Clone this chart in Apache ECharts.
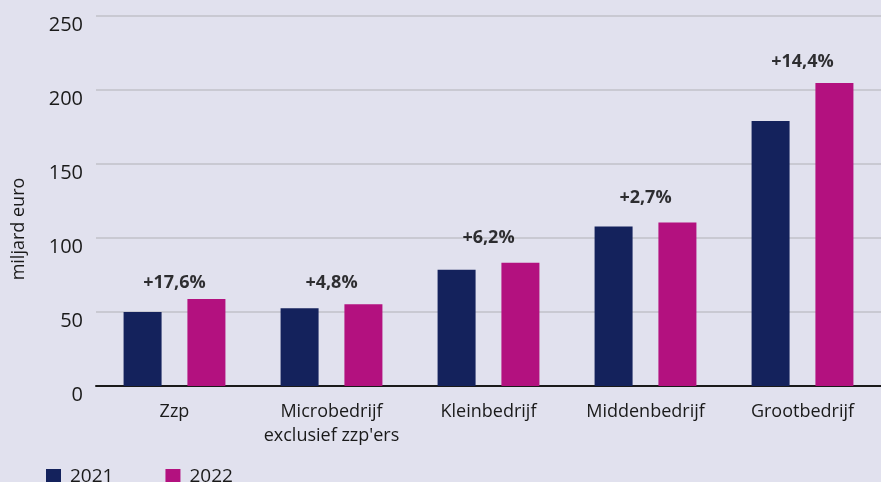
<!DOCTYPE html>
<html lang="nl">
<head>
    <meta charset="UTF-8">
    <title>Omzet per bedrijfsgrootte</title>
    <style>
        * { margin: 0; padding: 0; box-sizing: border-box; }
        body { background-color: #e1e1ee; }
        #chart { width: 881px; height: 482px; }
    </style>
    <script src="https://cdn.jsdelivr.net/npm/echarts@6.0.0/dist/echarts.min.js"></script>
</head>
<body>
    <div id="chart"></div>
    <script>
        // categorieën en waarden (miljard euro)
        const categories = ['Zzp', "Microbedrijf\nexclusief zzp'ers", 'Kleinbedrijf', 'Middenbedrijf', 'Grootbedrijf'];
        const values2021 = [50, 52.5, 78.6, 107.7, 179];
        const values2022 = [58.8, 55.3, 83.3, 110.4, 204.8];
        const growthLabels = ['+17,6%', '+4,8%', '+6,2%', '+2,7%', '+14,4%'];
        const growthLabelY = [70, 70, 100, 127, 219];
        const yTicks = [0, 50, 100, 150, 200, 250];

        const font = '"Open Sans", sans-serif';
        const chart = echarts.init(document.getElementById('chart'));

        const option = {
            backgroundColor: '#e1e1ee',
            animation: false,
            textStyle: { fontFamily: font },
            grid: { left: 96, right: 0, top: 16, bottom: 96 },
            legend: {
                data: ['2021', '2022'],
                left: 46,
                top: 467,
                padding: 0,
                icon: 'rect',
                itemWidth: 15,
                itemHeight: 15,
                itemGap: 52,
                textStyle: { fontSize: 19, color: '#1a1a1a', fontFamily: font, padding: [0, 0, 0, 4] }
            },
            graphic: [{
                type: 'text',
                x: 19,
                y: 229,
                rotation: Math.PI / 2,
                style: {
                    text: 'miljard euro',
                    font: '18px "Open Sans", sans-serif',
                    fill: '#1a1a1a',
                    textAlign: 'center',
                    textVerticalAlign: 'middle'
                }
            }],
            xAxis: {
                type: 'category',
                data: categories,
                axisLine: { lineStyle: { color: '#1a1a1a', width: 2 } },
                axisTick: { show: false },
                axisLabel: { interval: 0, fontSize: 18, color: '#1a1a1a', margin: 14, lineHeight: 24, fontFamily: font }
            },
            yAxis: {
                type: 'value',
                min: yTicks[0],
                max: yTicks[yTicks.length - 1],
                interval: 50,
                axisLine: { show: false },
                axisTick: { show: false },
                splitLine: { lineStyle: { color: '#c9c9d2', width: 2 } },
                axisLabel: {
                    fontSize: 20, color: '#1a1a1a', margin: 13, fontFamily: font,
                    verticalAlign: 'top', padding: [-1, 0, 0, 0]
                }
            },
            series: [
                {
                    name: '2021',
                    type: 'bar',
                    data: values2021,
                    barWidth: 38,
                    barGap: '68%',
                    itemStyle: { color: '#14225c' }
                },
                {
                    name: '2022',
                    type: 'bar',
                    data: values2022,
                    barWidth: 38,
                    itemStyle: { color: '#b3117f' }
                },
                {
                    name: 'groei',
                    type: 'scatter',
                    data: growthLabelY,
                    symbolSize: 1,
                    itemStyle: { color: 'rgba(0,0,0,0)' },
                    label: {
                        show: true,
                        position: 'inside',
                        formatter: p => growthLabels[p.dataIndex],
                        fontSize: 18,
                        fontWeight: 'bold',
                        color: '#000',
                        fontFamily: font
                    },
                    silent: true
                }
            ]
        };

        chart.setOption(option);
    </script>
</body>
</html>
